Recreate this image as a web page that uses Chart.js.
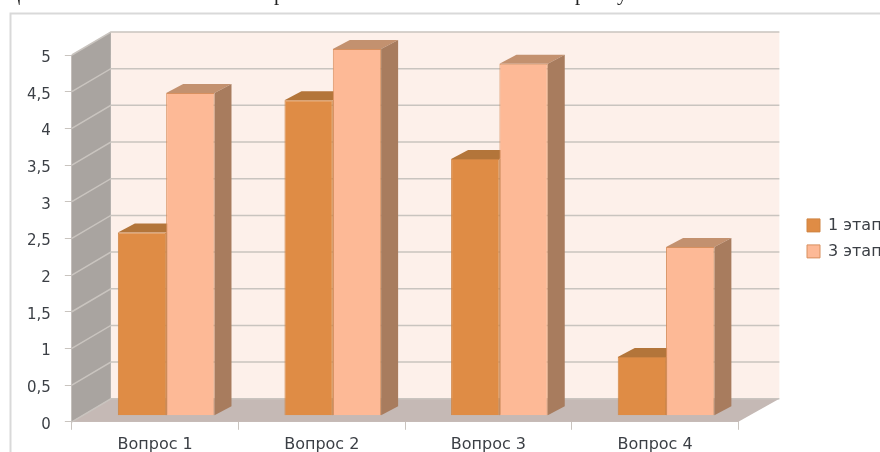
<!DOCTYPE html>
<html>
<head>
<meta charset="utf-8">
<style>
html, body { margin: 0; padding: 0; background: #fff; overflow: hidden; }
#wrap { position: relative; width: 900px; height: 459px; }
</style>
<script src="https://cdn.jsdelivr.net/npm/chart.js@4"></script>
</head>
<body>
<div id="wrap"><canvas id="chart"></canvas></div>
<script>
const categories = ['Вопрос 1', 'Вопрос 2', 'Вопрос 3', 'Вопрос 4'];
const stage1 = [2.5, 4.3, 3.5, 0.8];
const stage3 = [4.4, 5.0, 4.8, 2.3];
const seriesNames = ['1 этап', '3 этап'];
const tickLabels = ['0', '0,5', '1', '1,5', '2', '2,5', '3', '3,5', '4', '4,5', '5'];
// only the bottoms of these letters show above the frame in the picture
const captionLetters = ['ц', 'р', 'р', 'у'];
const captionX = [9, 274, 575, 617];

const textColor = '#3b3f45';
const gridColor = '#c9c4bf';
const topColors = ['#b3753a', '#c3916f'];
const sideColors = ['#a8703c', '#a87c5e'];

function poly(ctx, points, fill) {
    ctx.beginPath();
    points.forEach((p, i) => i ? ctx.lineTo(p[0], p[1]) : ctx.moveTo(p[0], p[1]));
    ctx.closePath();
    ctx.fillStyle = fill;
    ctx.fill();
}

// the library has no 3d bars, so walls and bar depth are painted around its scales
const box3d = {
    id: 'box3d',
    afterLayout(chart) {
        // legend sits away from the plot, not right against it
        const legend = chart.legend;
        legend.left = 797;
        legend.right = 797 + legend.width;
    },
    beforeDatasetsDraw(chart) {
        const ctx = chart.ctx;
        const { left, right, top, bottom } = chart.chartArea;
        const y = chart.scales.y;
        const dx = 39, dy = 23;

        ctx.save();
        ctx.fillStyle = '#222';
        ctx.font = '21px "Liberation Serif"';
        captionLetters.forEach((c, i) => ctx.fillText(c, captionX[i], 0));

        ctx.strokeStyle = '#d9d9d9';
        ctx.lineWidth = 2;
        ctx.beginPath();
        ctx.moveTo(10.5, 459);
        ctx.lineTo(10.5, 13.5);
        ctx.lineTo(880, 13.5);
        ctx.stroke();

        poly(ctx, [[left + dx, top - dy], [right + dx + 2, top - dy], [right + dx + 2, bottom - dy], [left + dx, bottom - dy]], '#fdf0ea');
        poly(ctx, [[left, top], [left + dx, top - dy], [left + dx, bottom - dy], [left, bottom]], '#a9a4a0');
        poly(ctx, [[left, bottom], [left + dx, bottom - dy], [right + dx + 2, bottom - dy], [right, bottom]], '#c5b9b5');

        ctx.strokeStyle = gridColor;
        ctx.lineWidth = 1.5;
        y.ticks.forEach(t => {
            const py = y.getPixelForValue(t.value);
            ctx.beginPath();
            ctx.moveTo(left, py);
            ctx.lineTo(left + dx, py - dy);
            ctx.lineTo(right + dx + 2, py - dy);
            ctx.stroke();
        });

        // depth of each bar, taken from the bar elements
        const depthX = 17, depthY = 9, shiftX = 11, shiftY = -6;
        chart.data.datasets.forEach((ds, i) => {
            chart.getDatasetMeta(i).data.forEach(bar => {
                const l = bar.x - bar.width / 2 + shiftX;
                const r = bar.x + bar.width / 2 + shiftX;
                const t = bar.y + shiftY;
                const b = bar.base + shiftY;
                poly(ctx, [[l, t], [l + depthX, t - depthY], [r + depthX, t - depthY], [r, t]], topColors[i]);
                poly(ctx, [[r, t], [r + depthX, t - depthY], [r + depthX, b - depthY], [r, b]], sideColors[i]);
            });
        });
        ctx.restore();

        ctx.save();
        ctx.translate(shiftX, shiftY);
    },
    afterDatasetsDraw(chart) {
        chart.ctx.restore();
    }
};

new Chart(document.getElementById('chart'), {
    type: 'bar',
    data: {
        labels: categories,
        datasets: [
            { label: seriesNames[0], data: stage1, backgroundColor: '#df8c45', borderColor: '#cf8443', borderWidth: 1 },
            { label: seriesNames[1], data: stage3, backgroundColor: '#fdb996', borderColor: '#d8905f', borderWidth: 1 }
        ]
    },
    options: {
        responsive: true,
        maintainAspectRatio: false,
        animation: false,
        categoryPercentage: 0.58,
        barPercentage: 1,
        layout: { padding: { top: 55, left: 13, right: 67, bottom: 0 } },
        scales: {
            x: {
                grid: { drawOnChartArea: false, color: gridColor, tickLength: 8, offset: true },
                border: { color: gridColor },
                ticks: { color: textColor, font: { family: 'DejaVu Sans', size: 16 }, padding: 5, maxRotation: 0 }
            },
            y: {
                min: 0,
                max: 5,
                afterBuildTicks(axis) {
                    axis.ticks = tickLabels.map((_, i) => ({ value: i * 0.5 }));
                },
                ticks: {
                    color: textColor,
                    font: { family: 'DejaVu Sans', size: 15 },
                    padding: 14,
                    labelOffset: 3,
                    callback: (value, i) => tickLabels[i]
                },
                grid: { drawOnChartArea: false, color: gridColor, tickLength: 7 },
                border: { color: gridColor }
            }
        },
        plugins: {
            title: { display: false },
            tooltip: { enabled: false },
            legend: {
                position: 'right',
                fullSize: false,
                labels: { boxWidth: 13, boxHeight: 13, padding: 10, color: textColor, font: { family: 'DejaVu Sans', size: 16 } }
            }
        }
    },
    plugins: [box3d]
});
</script>
</body>
</html>
